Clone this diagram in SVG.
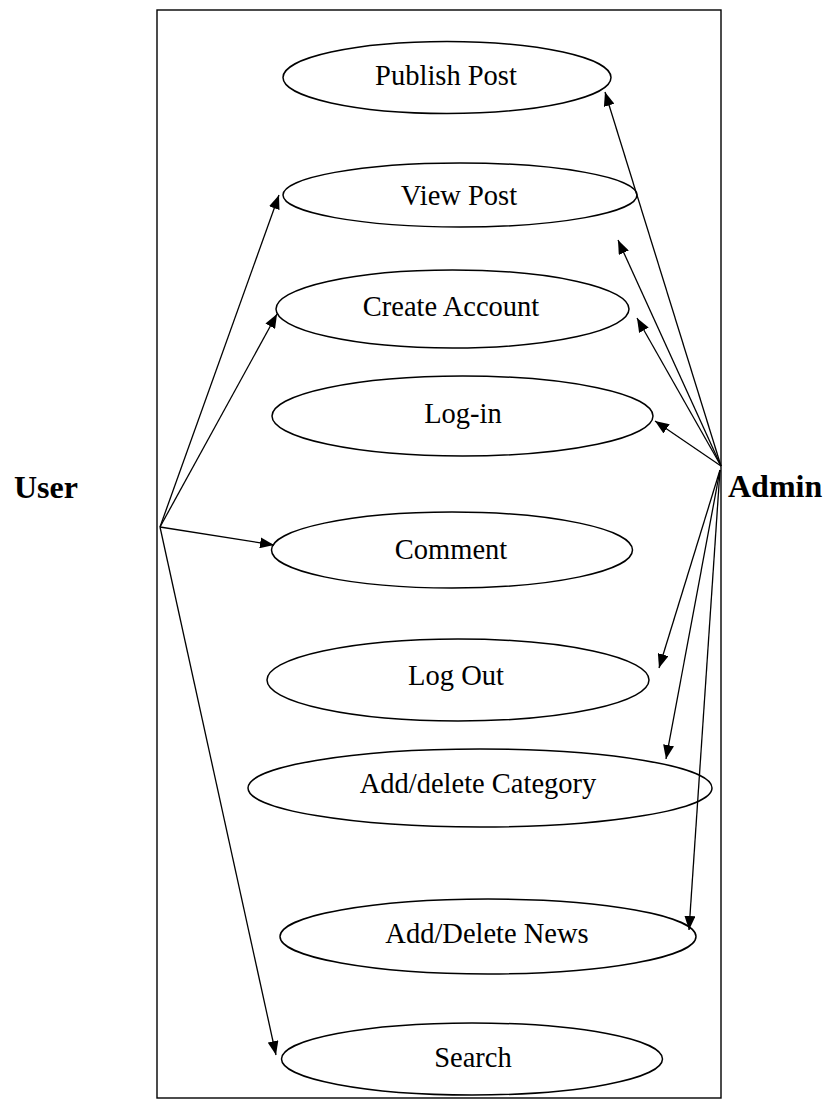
<svg xmlns="http://www.w3.org/2000/svg" width="832" height="1102" viewBox="0 0 832 1102">
  <style>
    .uc { fill: #ffffff; stroke: #000000; stroke-width: 1.5; }
    .lbl { font-family: "Liberation Serif", "Times New Roman", serif; font-size: 28.5px; fill: #000000; text-anchor: middle; }
    .actor { font-family: "Liberation Serif", "Times New Roman", serif; font-size: 32px; font-weight: bold; fill: #000000; }
    .conn { stroke: #000000; stroke-width: 1.3; fill: none; marker-end: url(#arrow); }
  </style>
  <defs>
    <marker id="arrow" markerUnits="userSpaceOnUse" markerWidth="15" markerHeight="11" refX="14" refY="5.5" orient="auto">
      <path d="M0,0 L14,5.5 L0,11 Z" fill="#000000"/>
    </marker>
  </defs>
  <rect width="832" height="1102" fill="#ffffff"/>

  <g id="system-boundary">
    <rect x="157" y="10" width="564" height="1088" fill="none" stroke="#000000" stroke-width="1.4"/>
  </g>

  <g id="actor-user">
    <text class="actor" x="14" y="498">User</text>
  </g>
  <g id="actor-admin">
    <text class="actor" x="728" y="497">Admin</text>
  </g>

  <g id="uc-publish-post">
    <ellipse class="uc" cx="447" cy="77.5" rx="164" ry="36"/>
    <text class="lbl" x="446" y="85">Publish Post</text>
  </g>
  <g id="uc-view-post">
    <ellipse class="uc" cx="460" cy="195" rx="177" ry="32"/>
    <text class="lbl" x="459" y="205">View Post</text>
  </g>
  <g id="uc-create-account">
    <ellipse class="uc" cx="452.5" cy="309" rx="176.5" ry="39"/>
    <text class="lbl" x="451" y="316">Create Account</text>
  </g>
  <g id="uc-login">
    <ellipse class="uc" cx="462.5" cy="416" rx="190.5" ry="40"/>
    <text class="lbl" x="463" y="423">Log-in</text>
  </g>
  <g id="uc-comment">
    <ellipse class="uc" cx="452" cy="550" rx="180.5" ry="38"/>
    <text class="lbl" x="451" y="559">Comment</text>
  </g>
  <g id="uc-logout">
    <ellipse class="uc" cx="458" cy="680" rx="191" ry="41"/>
    <text class="lbl" x="456" y="685">Log Out</text>
  </g>
  <g id="uc-category">
    <ellipse class="uc" cx="480" cy="788" rx="232" ry="39"/>
    <text class="lbl" x="478" y="793">Add/delete Category</text>
  </g>
  <g id="uc-news">
    <ellipse class="uc" cx="488" cy="936.5" rx="208" ry="37.5"/>
    <text class="lbl" x="487" y="943">Add/Delete News</text>
  </g>
  <g id="uc-search">
    <ellipse class="uc" cx="472" cy="1059" rx="190.5" ry="36"/>
    <text class="lbl" x="473" y="1067">Search</text>
  </g>

  <g id="connectors">
    <line class="conn" x1="160" y1="527" x2="279" y2="195"/>
    <line class="conn" x1="160" y1="527" x2="277" y2="314"/>
    <line class="conn" x1="160" y1="527" x2="274" y2="545"/>
    <line class="conn" x1="160" y1="527" x2="276" y2="1055"/>

    <line class="conn" x1="721" y1="466" x2="605" y2="92"/>
    <line class="conn" x1="721" y1="466" x2="618" y2="240"/>
    <line class="conn" x1="721" y1="466" x2="637" y2="318"/>
    <line class="conn" x1="721" y1="466" x2="655" y2="421"/>
    <line class="conn" x1="720" y1="470" x2="659" y2="668"/>
    <line class="conn" x1="720" y1="470" x2="666" y2="759"/>
    <line class="conn" x1="720" y1="470" x2="689" y2="930"/>
  </g>
</svg>
